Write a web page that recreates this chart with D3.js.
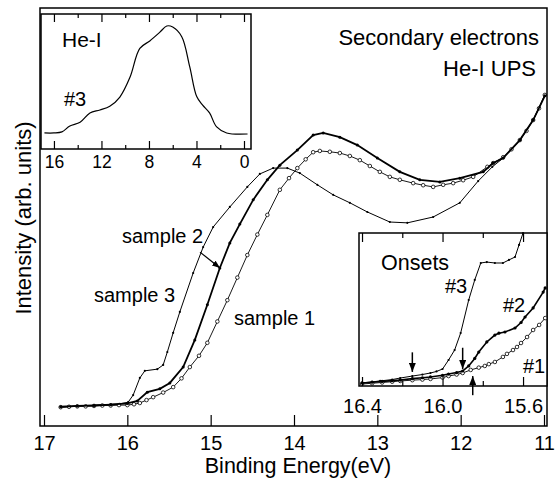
<!DOCTYPE html>
<html>
<head>
<meta charset="utf-8">
<script src="https://cdn.jsdelivr.net/npm/d3@7"></script>
<style>
  body { margin: 0; background: #fff; }
  svg { display: block; font-family: "Liberation Sans", Arial, sans-serif; }
  text { fill: #000; }
</style>
</head>
<body>
<script>
// main panel: secondary electron cut-off, [binding energy eV, intensity]
const mainTicks = [17, 16, 15, 14, 13, 12, 11];

const sample1 = [
  [16.8, 4.5], [16.7, 4.6], [16.6, 4.7], [16.5, 4.7], [16.4, 4.8], [16.3, 4.9], [16.2, 4.9],
  [16.1, 5.0], [16.0, 5.0], [15.92, 5.2], [15.85, 5.5], [15.77, 6.2], [15.69, 6.9], [15.57, 8.0],
  [15.45, 9.3], [15.35, 11.4], [15.25, 14.1], [15.14, 16.8], [15.04, 19.9], [14.92, 25.0],
  [14.80, 30.1], [14.68, 35.5], [14.56, 40.9], [14.44, 45.8], [14.32, 50.5], [14.17, 56.5],
  [14.06, 59.3], [13.96, 61.7], [13.86, 63.8], [13.77, 65.5], [13.69, 65.8], [13.57, 65.6],
  [13.45, 65.3], [13.33, 64.6], [13.21, 63.6], [13.09, 62.2], [12.97, 60.8], [12.85, 59.6],
  [12.73, 58.9], [12.57, 58.1], [12.45, 57.6], [12.33, 57.2], [12.21, 57.7], [12.09, 58.1],
  [11.97, 58.8], [11.85, 59.6], [11.68, 62.0], [11.61, 62.9], [11.49, 64.3], [11.39, 66.2],
  [11.29, 68.4], [11.21, 70.6], [11.13, 73.2], [11.06, 76.0], [10.99, 79.2]
];

const sample2 = [
  [16.8, 4.6], [16.6, 4.8], [16.4, 4.9], [16.2, 5.1], [16.0, 5.4], [15.88, 6.0], [15.76, 8.1],
  [15.61, 8.9], [15.49, 10.3], [15.33, 14.1], [15.19, 20.6], [15.04, 29.0], [14.89, 37.8],
  [14.77, 43.8], [14.65, 48.3], [14.49, 54.1], [14.32, 58.9], [14.17, 62.4], [13.96, 66.0],
  [13.77, 69.6], [13.65, 70.1], [13.45, 69.1], [13.24, 67.2], [13.00, 64.1], [12.73, 60.8],
  [12.49, 58.9], [12.25, 58.4], [12.01, 59.3], [11.73, 60.8], [11.61, 62.9], [11.49, 64.1],
  [11.29, 68.4], [11.13, 73.2], [10.99, 79.0]
];

const sample3 = [
  [16.8, 4.5], [16.6, 4.8], [16.4, 5.0], [16.2, 5.2], [16.09, 5.3], [15.99, 5.7], [15.93, 7.4],
  [15.85, 11.5], [15.79, 13.2], [15.64, 13.6], [15.57, 14.6], [15.52, 17.7], [15.45, 22.3],
  [15.37, 27.3], [15.21, 36.6], [15.09, 42.8], [14.97, 47.6], [14.77, 52.4], [14.56, 57.2],
  [14.41, 60.3], [14.25, 61.7], [14.08, 61.7], [13.93, 60.5], [13.72, 57.7], [13.53, 55.3],
  [13.33, 53.4], [13.12, 51.2], [12.85, 48.8], [12.64, 48.6], [12.33, 50.0], [12.01, 53.4],
  [11.79, 58.6], [11.62, 62.0], [11.49, 64.1], [11.29, 68.4], [11.13, 73.2], [10.99, 79.2]
];

// He-I valence band inset, sample #3
const insetTicks = [16, 12, 8, 4, 0];
const insetMinor = [14, 10, 6, 2];
const heI = [
  [16.8, 0], [16.0, 0], [15.33, 1], [14.66, 6.5], [13.8, 10], [12.97, 18.7], [12.13, 21.5],
  [11.3, 25], [10.45, 33.6], [9.6, 52], [8.77, 79], [7.93, 86], [7.1, 94], [6.5, 100],
  [6.0, 99], [5.24, 90], [4.57, 62], [3.98, 34], [3.48, 26], [2.9, 18.7], [2.3, 5.6],
  [1.46, 0], [-0.3, -1]
];

// onset inset
const onsetTicks = [16.4, 16.0, 15.6];
const onsetMinor = [16.2, 15.8];
const onset1 = [
  [16.40, 0.13], [16.35, 0.18], [16.30, 0.23], [16.25, 0.28], [16.21, 0.33], [16.15, 0.38],
  [16.10, 0.42], [16.06, 0.46], [16.00, 0.55], [15.97, 0.65], [15.93, 0.75], [15.90, 0.85],
  [15.86, 1.05], [15.82, 1.20], [15.79, 1.31], [15.77, 1.43], [15.74, 1.57], [15.70, 1.90],
  [15.68, 2.10], [15.65, 2.35], [15.63, 2.55], [15.61, 2.81], [15.58, 3.20], [15.55, 3.66],
  [15.52, 3.99], [15.49, 4.44]
];
const onset2 = [
  [16.40, 0.20], [16.35, 0.25], [16.30, 0.30], [16.25, 0.35], [16.21, 0.39], [16.15, 0.48],
  [16.10, 0.54], [16.06, 0.59], [16.00, 0.70], [15.97, 0.78], [15.93, 0.88], [15.90, 0.98],
  [15.87, 1.31], [15.84, 1.80], [15.82, 2.22], [15.78, 2.88], [15.74, 3.33], [15.72, 3.45],
  [15.69, 3.53], [15.64, 3.79], [15.61, 4.15], [15.59, 4.51], [15.55, 5.10], [15.50, 6.14],
  [15.49, 6.41]
];
const onset3 = [
  [16.40, 0.20], [16.35, 0.27], [16.31, 0.33], [16.25, 0.42], [16.21, 0.52], [16.15, 0.65],
  [16.10, 0.75], [16.06, 0.85], [16.03, 0.95], [16.00, 1.11], [15.97, 1.70], [15.94, 2.35],
  [15.91, 3.46], [15.87, 5.62], [15.84, 6.93], [15.81, 8.04], [15.78, 8.10], [15.74, 8.04],
  [15.70, 8.04], [15.67, 8.24], [15.64, 8.43], [15.62, 9.22], [15.60, 10.0]
];
const onsetArrows = [ // energy, tip, tail, on #3 / #2 / #1
  [16.15, 0.92, 2.2], [15.90, 1.11, 2.5], [15.85, 0.65, -0.6]
];

const W = 555, H = 483;
const svg = d3.select('body').append('svg').attr('width', W).attr('height', H);

const defs = svg.append('defs');
function addHead(id, len, wid) {
  defs.append('marker').attr('id', id)
    .attr('markerUnits', 'userSpaceOnUse')
    .attr('markerWidth', len).attr('markerHeight', wid)
    .attr('refX', len).attr('refY', wid / 2)
    .attr('orient', 'auto')
    .append('path').attr('d', `M0,0L${len},${wid / 2}L0,${wid}Z`).attr('fill', '#000');
}
addHead('headS', 8, 6);
addHead('headB', 9, 7);

function drawSeries(g, data, xs, ys, opt) {
  const line = d3.line().x(d => xs(d[0])).y(d => ys(d[1]));
  if (opt.curve) line.curve(opt.curve);
  g.append('path').datum(data)
    .attr('d', line)
    .attr('fill', 'none')
    .attr('stroke', '#000')
    .attr('stroke-width', opt.width);
  if (!opt.marker) return;
  g.selectAll(null).data(data).enter().append('circle')
    .attr('cx', d => xs(d[0]))
    .attr('cy', d => ys(d[1]))
    .attr('r', opt.r)
    .attr('fill', opt.marker === 'open' ? '#fff' : '#000')
    .attr('stroke', '#000')
    .attr('stroke-width', opt.marker === 'open' ? 0.8 : 0);
}

function styleAxis(g, size) {
  g.select('.domain').remove();
  g.selectAll('line').attr('stroke', '#000').attr('stroke-width', 1.2);
  g.selectAll('text').attr('font-size', size).attr('fill', '#000');
}

// ---- main panel ----
const x = d3.scaleLinear().domain([17.048, 10.964]).range([40, 547]);
const y = d3.scaleLinear().domain([0, 100]).range([426, 8]);

const main = svg.append('g');
drawSeries(main, sample3, x, y, {width: 1, marker: 'dot', r: 1.1});
drawSeries(main, sample1, x, y, {width: 0.9, marker: 'open', r: 1.8});
drawSeries(main, sample2, x, y, {width: 1.8, marker: 'dot', r: 1.5});

main.append('g')
  .attr('transform', 'translate(0,426)')
  .call(d3.axisBottom(x).tickValues(mainTicks).tickSizeInner(-11).tickSizeOuter(0)
    .tickPadding(10).tickFormat(d3.format('d')))
  .call(g => styleAxis(g, 20));

main.append('rect')
  .attr('x', 40).attr('y', 8).attr('width', 507).attr('height', 418)
  .attr('fill', 'none').attr('stroke', '#000').attr('stroke-width', 1.5);

main.append('text').attr('x', 298).attr('y', 473)
  .attr('text-anchor', 'middle').attr('font-size', 21.5).text('Binding Energy(eV)');
main.append('text')
  .attr('transform', 'translate(31,218) rotate(-90)')
  .attr('text-anchor', 'middle').attr('font-size', 22).text('Intensity (arb. units)');

main.append('text').attr('x', 539).attr('y', 45).attr('text-anchor', 'end')
  .attr('font-size', 22).text('Secondary electrons');
main.append('text').attr('x', 536).attr('y', 76).attr('text-anchor', 'end')
  .attr('font-size', 22).text('He-I UPS');

main.append('text').attr('x', 122).attr('y', 243).attr('font-size', 20).text('sample 2');
main.append('text').attr('x', 94).attr('y', 302).attr('font-size', 20).text('sample 3');
main.append('text').attr('x', 234).attr('y', 325).attr('font-size', 20).text('sample 1');

main.append('line')
  .attr('x1', x(15.128)).attr('y1', y(41.6))
  .attr('x2', x(14.888)).attr('y2', y(37.8))
  .attr('stroke', '#000').attr('stroke-width', 1.2)
  .attr('marker-end', 'url(#headS)');

// ---- He-I inset ----
const ix = d3.scaleLinear().domain([17.09, -0.59]).range([41, 251]);
const iy = d3.scaleLinear().domain([-15, 111.2]).range([149, 14]);
const ins = svg.append('g');
ins.append('rect').attr('x', 41).attr('y', 14).attr('width', 210).attr('height', 135)
  .attr('fill', '#fff').attr('stroke', '#000').attr('stroke-width', 1.5);
drawSeries(ins, heI, ix, iy, {width: 1.2, curve: d3.curveCatmullRom});

ins.append('g').attr('transform', 'translate(0,149)')
  .call(d3.axisBottom(ix).tickValues(insetTicks).tickSizeInner(-8).tickSizeOuter(0).tickPadding(7))
  .call(g => styleAxis(g, 17.5));
ins.append('g').attr('transform', 'translate(0,149)')
  .call(d3.axisBottom(ix).tickValues(insetMinor).tickSizeInner(-4).tickSizeOuter(0).tickFormat(''))
  .call(g => styleAxis(g, 17.5));
ins.append('g').attr('transform', 'translate(0,14)')
  .call(d3.axisTop(ix).tickValues(insetTicks).tickSizeInner(-8).tickSizeOuter(0).tickFormat(''))
  .call(g => styleAxis(g, 17.5));
ins.append('g').attr('transform', 'translate(0,14)')
  .call(d3.axisTop(ix).tickValues(insetMinor).tickSizeInner(-4).tickSizeOuter(0).tickFormat(''))
  .call(g => styleAxis(g, 17.5));
ins.append('text').attr('x', 62).attr('y', 47).attr('font-size', 21).text('He-I');
ins.append('text').attr('x', 64).attr('y', 106).attr('font-size', 20).text('#3');

// ---- onsets inset ----
const ox = d3.scaleLinear().domain([16.415, 15.481]).range([359, 547]);
const oy = d3.scaleLinear().domain([0, 10]).range([386, 233]);
const ons = svg.append('g');
ons.append('rect').attr('x', 359).attr('y', 233).attr('width', 188).attr('height', 153)
  .attr('fill', '#fff').attr('stroke', '#000').attr('stroke-width', 1.5);
drawSeries(ons, onset3, ox, oy, {width: 1, marker: 'dot', r: 1.1});
drawSeries(ons, onset1, ox, oy, {width: 0.9, marker: 'open', r: 1.8});
drawSeries(ons, onset2, ox, oy, {width: 1.6, marker: 'dot', r: 1.6});

ons.append('g').attr('transform', 'translate(0,386)')
  .call(d3.axisBottom(ox).tickValues(onsetTicks).tickSizeInner(-9).tickSizeOuter(0)
    .tickPadding(13).tickFormat(d3.format('.1f')))
  .call(g => styleAxis(g, 20));
ons.append('g').attr('transform', 'translate(0,386)')
  .call(d3.axisBottom(ox).tickValues(onsetMinor).tickSizeInner(-5).tickSizeOuter(0).tickFormat(''))
  .call(g => styleAxis(g, 20));
ons.append('g').attr('transform', 'translate(0,233)')
  .call(d3.axisTop(ox).tickValues(onsetTicks).tickSizeInner(-9).tickSizeOuter(0).tickFormat(''))
  .call(g => styleAxis(g, 20));
ons.append('g').attr('transform', 'translate(0,233)')
  .call(d3.axisTop(ox).tickValues(onsetMinor).tickSizeInner(-5).tickSizeOuter(0).tickFormat(''))
  .call(g => styleAxis(g, 20));

ons.selectAll(null).data(onsetArrows).enter().append('line')
  .attr('x1', d => ox(d[0])).attr('y1', d => oy(d[2]))
  .attr('x2', d => ox(d[0])).attr('y2', d => oy(d[1]))
  .attr('stroke', '#000').attr('stroke-width', 1.5)
  .attr('marker-end', 'url(#headB)');

ons.append('text').attr('x', 381).attr('y', 270).attr('font-size', 21.5).text('Onsets');
ons.append('text').attr('x', 445).attr('y', 293).attr('font-size', 20).text('#3');
ons.append('text').attr('x', 503).attr('y', 312).attr('font-size', 20).text('#2');
ons.append('text').attr('x', 523).attr('y', 373).attr('font-size', 20).text('#1');
</script>
</body>
</html>
